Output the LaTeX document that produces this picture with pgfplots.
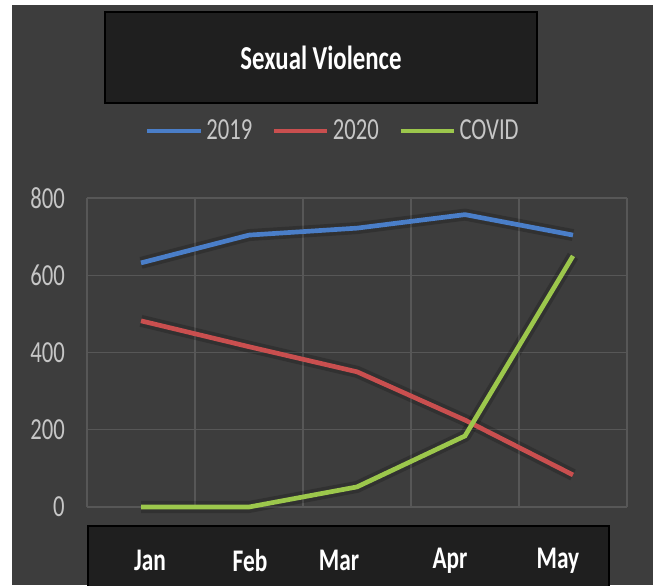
\documentclass[border=0pt]{standalone}
\usepackage{pgfplots}
\pgfplotsset{compat=1.18}
\usepackage{fontspec}
\setmainfont{Carlito}
\usepackage{graphicx}
\definecolor{panel}{HTML}{3D3D3D}
\definecolor{boxfill}{HTML}{1F1F1F}
\definecolor{gridc}{HTML}{575757}
\definecolor{c2019}{HTML}{4A7EC8}
\definecolor{c2020}{HTML}{C94F4F}
\definecolor{ccovid}{HTML}{9CC74C}
\definecolor{lbl}{HTML}{C6C6C6}
\newcommand{\st}[1]{\scalebox{1}[1.35]{#1}}
\begin{document}
\begin{tikzpicture}
\useasboundingbox (0,0) rectangle (492pt,438.75pt);
\fill[white] (0,0) rectangle (492pt,438.75pt);
\fill[panel] (9pt,0) rectangle (489.75pt,435pt);
\draw[black, fill=boxfill, line width=1pt] (78.75pt,361.5pt) rectangle (402.75pt,429.75pt);
\node[text=white, font=\fontsize{18.6}{22}\selectfont\bfseries] at (240.75pt,395pt) {\st{Sexual Violence}};
\draw[black, fill=boxfill, line width=1.2pt] (66pt,-3pt) rectangle (456.75pt,44.25pt);
\begin{axis}[
  at={(65.25pt,58.5pt)}, anchor=origin,
  scale only axis, width=405pt, height=231.75pt,
  xmin=0.5, xmax=5.5, ymin=0, ymax=800,
  clip=false,
  axis line style={draw=none},
  tick style={draw=none},
  xtick={1.083,2.009,2.833,3.861,4.861},
  xticklabels={\st{Jan},\st{Feb},\st{Mar},\st{Apr},\st{May}},
  xticklabel style={anchor=center, yshift=-40pt, text=white, font=\fontsize{17.5}{20}\selectfont\bfseries},
  minor xtick={0.5,1.5,...,5.5},
  xminorgrids=true,
  ytick={0,200,400,600,800},
  ymajorgrids=true,
  grid style={draw=gridc, line width=0.8pt},
  minor grid style={draw=gridc, line width=0.8pt},
  yticklabel={\st{\pgfmathprintnumber{\tick}}},
  yticklabel style={anchor=east, inner sep=0pt, xshift=-16.5pt, text=lbl, font=\fontsize{17}{20}\selectfont},
  /pgf/number format/assume math mode=true,
  legend columns=3,
  legend style={at={(0.4565,1.2168)}, anchor=center, draw=none, fill=none,
    text=lbl, font=\fontsize{17}{20}\selectfont,
    nodes={inner sep=2.5pt},
    /tikz/every even column/.append style={column sep=12pt}},
  legend image code/.code={\draw[#1] (0pt,0pt) -- (40pt,0pt);},
]
\addplot[black, opacity=0.18, line width=9pt, forget plot, line join=round] coordinates {(1,632) (2,704) (3,722) (4,757) (5,704)};
\addplot[black, opacity=0.18, line width=9pt, forget plot, line join=round] coordinates {(1,482) (2,415) (3,350) (4,225) (5,83)};
\addplot[black, opacity=0.18, line width=9pt, forget plot, line join=round] coordinates {(1,0) (2,0) (3,52) (4,184) (5,650)};
\addplot[c2019, line width=3.5pt] coordinates {(1,632) (2,704) (3,722) (4,757) (5,704)};
\addlegendentry{\st{2019}}
\addplot[c2020, line width=3.5pt] coordinates {(1,482) (2,415) (3,350) (4,225) (5,83)};
\addlegendentry{\st{2020}}
\addplot[ccovid, line width=3.5pt] coordinates {(1,0) (2,0) (3,52) (4,184) (5,650)};
\addlegendentry{\st{COVID}}
\end{axis}
\end{tikzpicture}
\end{document}
